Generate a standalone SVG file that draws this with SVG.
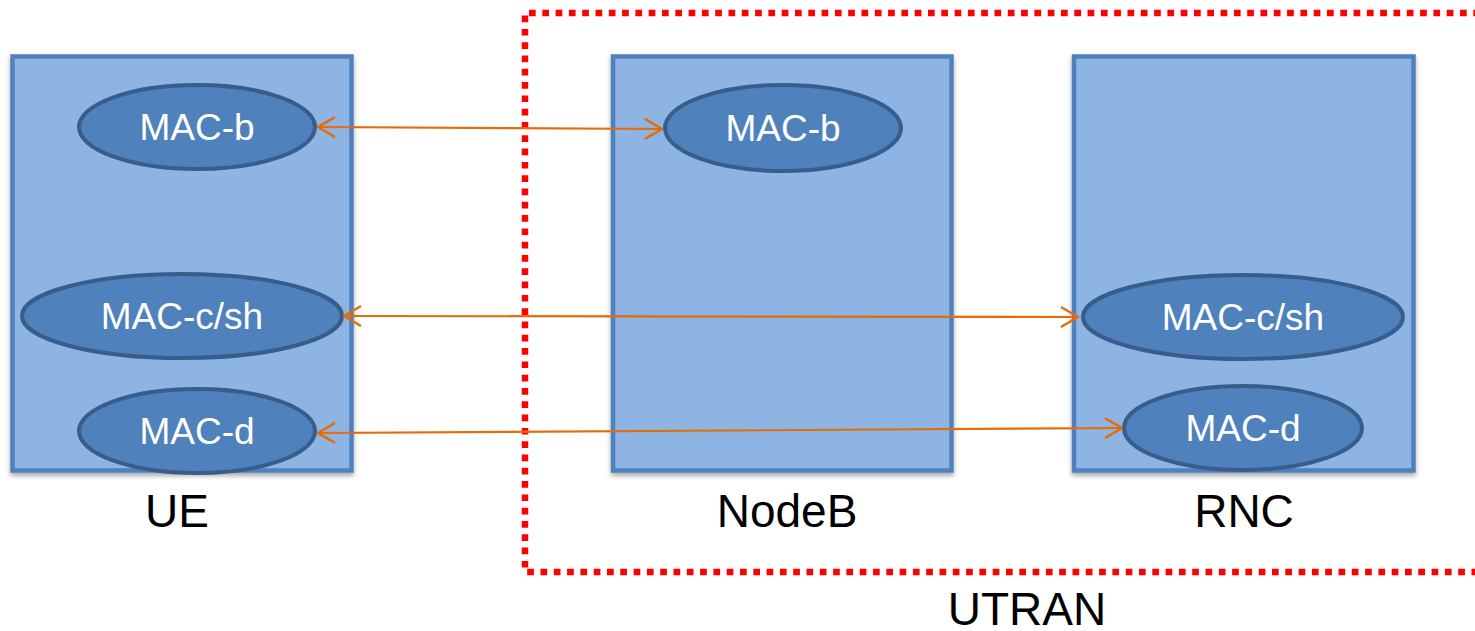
<svg xmlns="http://www.w3.org/2000/svg" width="1475" height="631" viewBox="0 0 1475 631">
  <defs>
    <style>
      .box { fill: #8eb4e3; stroke: #4f81bd; stroke-width: 4.5; }
      .layer { fill: #4f81bd; stroke: #385d8a; stroke-width: 4; }
      .layer-text { font-family: "Liberation Sans", Arial, sans-serif; font-size: 37px; fill: #ffffff; text-anchor: middle; }
      .caption { font-family: "Liberation Sans", Arial, sans-serif; font-size: 46px; fill: #000000; text-anchor: middle; }
      .link { fill: none; stroke: #e46c0a; stroke-width: 2.2; marker-start: url(#arrow); marker-end: url(#arrow); }
      .domain { fill: none; stroke: #ff0000; stroke-width: 6.5; stroke-dasharray: 6.7 6.6; }
    </style>
    <filter id="shadow" x="-5%" y="-5%" width="110%" height="110%">
      <feGaussianBlur in="SourceAlpha" stdDeviation="2.5"/>
      <feOffset dx="0" dy="3" result="blur"/>
      <feComponentTransfer><feFuncA type="linear" slope="0.35"/></feComponentTransfer>
      <feMerge><feMergeNode/><feMergeNode in="SourceGraphic"/></feMerge>
    </filter>
    <marker id="arrow" markerUnits="userSpaceOnUse" viewBox="0 0 20 24" refX="19" refY="12" markerWidth="20" markerHeight="24" orient="auto-start-reverse">
      <path d="M2,2 L19,12 L2,22" fill="none" stroke="#e46c0a" stroke-width="2.4"/>
    </marker>
  </defs>

  <!-- UTRAN boundary (open on the right edge) -->
  <g id="utran">
    <path class="domain" d="M1480,13 H525 V572 H1480"/>
    <text class="caption" x="1027" y="625">UTRAN</text>
  </g>

  <!-- UE -->
  <g id="ue">
    <rect class="box" x="12.5" y="56.5" width="339" height="414" filter="url(#shadow)"/>
    <text class="caption" x="177" y="527">UE</text>
  </g>
  <g id="ue-mac-b">
    <ellipse class="layer" cx="197" cy="127" rx="118" ry="42"/>
    <text class="layer-text" x="197" y="140">MAC-b</text>
  </g>
  <g id="ue-mac-csh">
    <ellipse class="layer" cx="182" cy="316" rx="160" ry="42"/>
    <text class="layer-text" x="182" y="329">MAC-c/sh</text>
  </g>
  <g id="ue-mac-d">
    <ellipse class="layer" cx="197" cy="431" rx="118" ry="42"/>
    <text class="layer-text" x="197" y="444">MAC-d</text>
  </g>

  <!-- NodeB -->
  <g id="nodeb">
    <rect class="box" x="613" y="56.5" width="338.5" height="414" filter="url(#shadow)"/>
    <text class="caption" x="787" y="527">NodeB</text>
  </g>
  <g id="nodeb-mac-b">
    <ellipse class="layer" cx="783" cy="128" rx="118" ry="43"/>
    <text class="layer-text" x="783" y="141">MAC-b</text>
  </g>

  <!-- RNC -->
  <g id="rnc">
    <rect class="box" x="1074" y="56.5" width="339.5" height="414" filter="url(#shadow)"/>
    <text class="caption" x="1244" y="527">RNC</text>
  </g>
  <g id="rnc-mac-csh">
    <ellipse class="layer" cx="1243" cy="317" rx="160" ry="42"/>
    <text class="layer-text" x="1243" y="330">MAC-c/sh</text>
  </g>
  <g id="rnc-mac-d">
    <ellipse class="layer" cx="1243" cy="428" rx="119" ry="42"/>
    <text class="layer-text" x="1243" y="441">MAC-d</text>
  </g>

  <!-- peer-to-peer links -->
  <g id="connectors">
    <line class="link" x1="318" y1="127" x2="662" y2="129"/>
    <line class="link" x1="344" y1="316" x2="1078" y2="317"/>
    <line class="link" x1="318" y1="433" x2="1122" y2="428"/>
  </g>
</svg>
